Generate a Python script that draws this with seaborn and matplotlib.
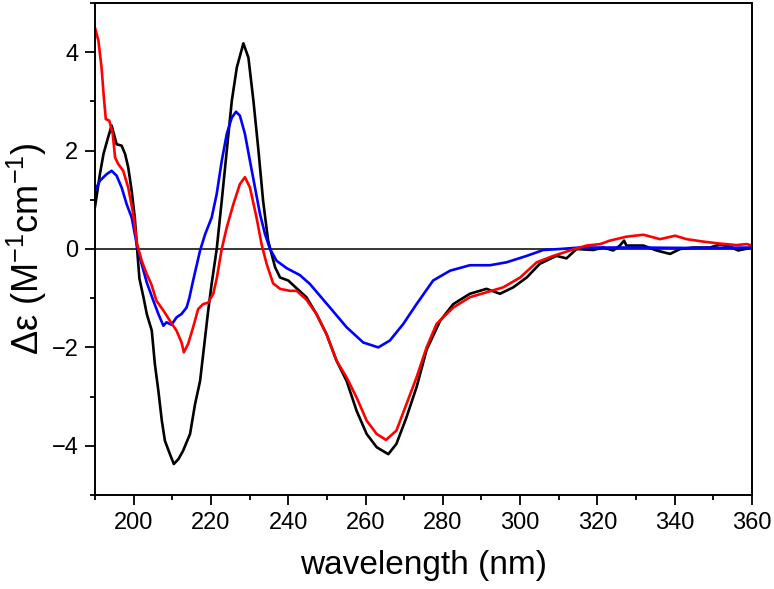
import numpy as np
import pandas as pd
import matplotlib
matplotlib.use("Agg")
import matplotlib.pyplot as plt
import seaborn as sns
from matplotlib.ticker import MultipleLocator

# CD spectra
black_wl = [190.0, 191.3, 192.2, 193.4, 194.3, 195.6, 196.9, 197.8, 198.6, 199.5,
            200.3, 200.9, 201.5, 202.6, 203.4, 204.7, 205.5, 206.4, 207.3, 208.1,
            209.4, 210.4, 211.6, 212.8, 214.6, 215.9, 217.2, 218.2, 219.3, 220.2,
            221.5, 222.8, 224.1, 225.4, 226.7, 228.4, 229.7, 231.0, 232.3, 233.5,
            234.8, 235.7, 236.6, 237.9, 240.0, 242.2, 244.7, 247.3, 249.9, 252.5,
            255.1, 257.7, 260.3, 262.9, 265.9, 268.0, 270.6, 273.2, 275.8, 279.3,
            282.7, 287.0, 291.3, 294.8, 298.2, 301.7, 305.1, 309.4, 312.0, 314.6,
            318.9, 321.5, 324.1, 325.8, 326.9, 327.5, 331.9, 335.3, 338.8, 341.4,
            344.8, 349.1, 351.7, 354.3, 356.4, 360.0]
black_de = [0.85, 1.53, 1.93, 2.27, 2.51, 2.13, 2.10, 1.93, 1.66, 1.18,
            0.64, 0.00, -0.60, -1.00, -1.32, -1.66, -2.34, -2.88, -3.49, -3.90,
            -4.17, -4.37, -4.27, -4.10, -3.76, -3.15, -2.68, -2.00, -1.25, -0.70,
            0.00, 0.98, 2.00, 3.01, 3.69, 4.18, 3.89, 3.01, 2.00, 0.98,
            0.17, -0.10, -0.37, -0.58, -0.64, -0.80, -0.98, -1.32, -1.73, -2.27,
            -2.68, -3.29, -3.76, -4.03, -4.17, -3.96, -3.42, -2.81, -2.05, -1.46,
            -1.12, -0.91, -0.81, -0.91, -0.78, -0.58, -0.30, -0.14, -0.19, 0.00,
            -0.02, 0.03, -0.03, 0.07, 0.17, 0.07, 0.07, -0.03, -0.10, 0.00,
            0.03, 0.03, 0.09, 0.05, -0.03, 0.03]

blue_wl = [190.0, 191.3, 193.0, 194.3, 195.6, 196.9, 198.2, 199.5, 200.8, 201.6,
           203.4, 205.1, 206.4, 207.7, 208.5, 209.8, 211.1, 212.4, 213.7, 214.4,
           215.4, 217.2, 218.5, 220.2, 221.5, 222.8, 224.1, 225.4, 226.5, 227.5,
           228.8, 230.1, 231.4, 232.7, 234.0, 235.3, 237.0, 239.6, 243.0, 245.6,
           248.2, 250.8, 255.1, 259.4, 263.3, 266.3, 269.8, 273.2, 277.5, 281.9,
           287.0, 292.2, 296.5, 301.7, 306.0, 310.3, 315.5, 330.0, 345.0, 360.0]
blue_de = [1.19, 1.39, 1.52, 1.59, 1.49, 1.25, 0.91, 0.64, 0.10, -0.17,
           -0.68, -1.05, -1.32, -1.56, -1.49, -1.54, -1.39, -1.32, -1.19, -1.00,
           -0.64, -0.03, 0.30, 0.64, 1.12, 1.79, 2.34, 2.67, 2.79, 2.71,
           2.34, 1.79, 1.25, 0.71, 0.30, 0.00, -0.24, -0.39, -0.53, -0.71,
           -0.95, -1.19, -1.59, -1.90, -2.00, -1.86, -1.52, -1.12, -0.64, -0.44,
           -0.33, -0.33, -0.27, -0.14, -0.02, 0.00, 0.03, 0.03, 0.02, 0.03]

red_wl = [190.0, 190.9, 191.7, 192.3, 192.8, 193.7, 194.6, 195.2, 196.0, 197.3,
          198.6, 199.9, 200.9, 202.1, 203.4, 204.6, 205.9, 207.7, 209.4, 211.1,
          212.4, 213.0, 214.1, 215.4, 216.7, 218.0, 219.3, 220.6, 221.5, 222.8,
          224.1, 225.8, 227.5, 228.8, 230.1, 231.8, 233.1, 234.4, 236.1, 237.9,
          240.4, 242.2, 244.7, 247.3, 249.9, 252.5, 255.1, 257.7, 260.3, 262.9,
          265.3, 268.0, 270.6, 273.2, 275.8, 278.4, 282.7, 287.0, 291.3, 295.6,
          300.0, 304.3, 308.6, 312.9, 317.2, 320.7, 323.2, 327.5, 331.9, 336.2,
          340.1, 343.1, 347.4, 351.7, 356.0, 358.6, 360.0]
red_de = [4.50, 4.23, 3.69, 3.08, 2.64, 2.61, 2.34, 1.86, 1.73, 1.59,
          1.25, 0.71, 0.10, -0.24, -0.51, -0.72, -1.05, -1.25, -1.46, -1.66,
          -1.90, -2.10, -1.93, -1.59, -1.22, -1.12, -1.09, -0.91, -0.60, 0.00,
          0.44, 0.91, 1.32, 1.46, 1.25, 0.64, 0.10, -0.30, -0.70, -0.81,
          -0.85, -0.85, -1.03, -1.32, -1.73, -2.27, -2.61, -3.02, -3.49, -3.76,
          -3.88, -3.69, -3.15, -2.61, -2.00, -1.52, -1.19, -0.98, -0.88, -0.78,
          -0.58, -0.27, -0.14, -0.03, 0.07, 0.10, 0.17, 0.25, 0.29, 0.20,
          0.27, 0.20, 0.15, 0.11, 0.08, 0.10, 0.07]

sns.set_style("ticks")
plt.rcParams['font.family'] = ['Liberation Sans', 'DejaVu Sans']
plt.rcParams['mathtext.fontset'] = 'custom'
plt.rcParams['mathtext.rm'] = 'Liberation Sans'
plt.rcParams['mathtext.it'] = 'Liberation Sans:italic'
plt.rcParams['text.color'] = 'black'
plt.rcParams['axes.labelcolor'] = 'black'
plt.rcParams['xtick.color'] = 'black'
plt.rcParams['ytick.color'] = 'black'

fig = plt.figure(figsize=(7.74, 5.89), dpi=100)
ax = fig.add_axes([0.1227, 0.1596, 0.8489, 0.8353])

ax.axhline(0, color='black', lw=1.1, zorder=1)

for wl, de, col in [(black_wl, black_de, '#000000'),
                    (blue_wl, blue_de, '#0000ff'),
                    (red_wl, red_de, '#ff0000')]:
    df = pd.DataFrame({'wl': wl, 'de': de})
    sns.lineplot(data=df, x='wl', y='de', color=col, lw=1.9, ax=ax,
                 estimator=None, zorder=2)

ax.set_xlim(190, 360)
ax.set_ylim(-5, 5)
ax.xaxis.set_major_locator(MultipleLocator(20))
ax.xaxis.set_minor_locator(MultipleLocator(10))
ax.yaxis.set_major_locator(MultipleLocator(2))
ax.yaxis.set_minor_locator(MultipleLocator(1))
ax.tick_params(which='major', length=7, width=1.3, labelsize=17, direction='out', pad=5)
ax.tick_params(which='minor', length=3.5, width=1.3, direction='out')
for sp in ax.spines.values():
    sp.set_linewidth(1.4)
    sp.set_color('black')

ax.set_xlabel('wavelength (nm)', fontsize=24, labelpad=12)
ax.set_ylabel(r'Δε (M$^{-1}$cm$^{-1}$)', fontsize=26, labelpad=2)

fig.savefig('out.png', dpi=100)
